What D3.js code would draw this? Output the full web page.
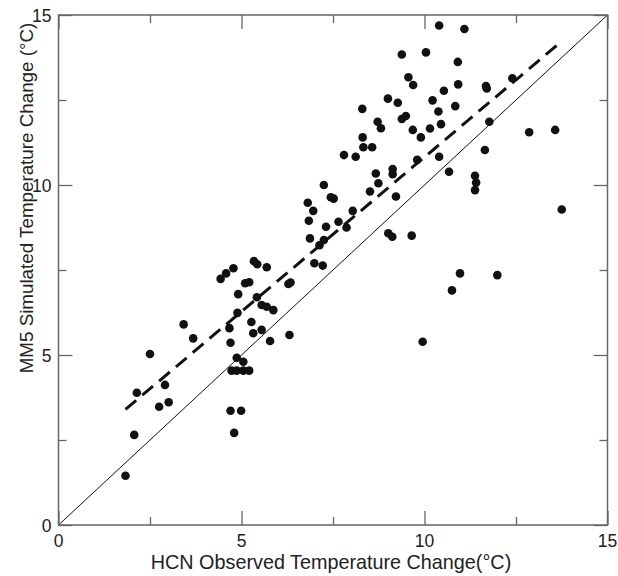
<!DOCTYPE html>
<html>
<head>
<meta charset="utf-8">
<script src="https://cdn.jsdelivr.net/npm/d3@7"></script>
<style>
  body { margin: 0; background: #fff; }
  svg text { font-family: Arial, "Liberation Sans", Helvetica, sans-serif; fill: #222; }
</style>
</head>
<body>
<div id="container"></div>
<script>
// HCN observed change (x) vs MM5 simulated change (y), degrees C
const observed = [
  1.83, 2.07, 2.14, 2.50, 2.75, 2.91, 3.01, 3.42, 3.68, 4.43,
  4.58, 4.78, 4.67, 4.70, 4.70, 4.99, 4.80, 4.73, 4.87, 5.05,
  5.21, 4.87, 5.05, 4.89, 4.91, 5.27, 5.32, 5.55, 5.78, 6.31,
  5.42, 5.55, 5.69, 5.87, 5.10, 5.21, 5.34, 5.43, 5.69, 6.28,
  6.34, 6.81, 6.96, 6.84, 6.87, 6.99, 7.22, 7.13, 7.25, 7.31,
  7.25, 7.44, 7.52, 7.65, 7.87, 7.80, 8.12, 8.04, 8.51, 8.67,
  8.74, 8.31, 8.33, 8.57, 8.30, 8.72, 8.81, 9.00, 9.27, 9.38,
  9.56, 9.69, 9.38, 9.49, 9.13, 9.13, 9.22, 9.01, 9.12, 9.65,
  9.68, 9.80, 9.90, 10.04, 10.15, 10.22, 10.38, 10.40, 10.40, 10.45,
  10.53, 10.67, 10.84, 10.91, 10.92, 11.09, 11.38, 11.41, 11.38, 11.65,
  11.68, 11.70, 11.77, 12.40, 12.86, 13.57, 13.75, 10.97, 11.99, 10.75,
  9.95
];
const simulated = [
  1.45, 2.65, 3.89, 5.03, 3.48, 4.12, 3.61, 5.90, 5.49, 7.24,
  7.40, 7.55, 5.79, 5.36, 3.36, 3.36, 2.71, 4.54, 4.54, 4.54,
  4.54, 4.92, 4.80, 6.24, 6.79, 5.97, 5.64, 5.74, 5.41, 5.59,
  6.70, 6.47, 6.42, 6.32, 7.11, 7.14, 7.76, 7.67, 7.58, 7.09,
  7.13, 9.48, 9.24, 8.95, 8.43, 7.70, 7.63, 8.23, 8.38, 8.77,
  10.00, 9.64, 9.60, 8.92, 8.75, 10.88, 10.83, 9.24, 9.81, 10.34,
  10.05, 11.40, 11.11, 11.11, 12.24, 11.86, 11.67, 12.54, 12.42, 13.84,
  13.17, 12.94, 11.94, 12.03, 10.47, 10.32, 9.66, 8.58, 8.48, 8.51,
  11.62, 10.74, 11.40, 13.90, 11.66, 12.49, 12.16, 10.83, 14.69, 11.79,
  12.77, 10.39, 12.32, 13.62, 12.96, 14.59, 10.27, 10.07, 9.85, 11.03,
  12.91, 12.84, 11.86, 13.14, 11.55, 11.62, 9.28, 7.40, 7.35, 6.90,
  5.39
];
// regression fit and the 1:1 line
const fitX = [1.83, 13.72];
const fitY = [3.40, 14.20];
const oneToOne = [0, 15];
const majorTicks = [0, 5, 10, 15];
const minorTicks = [2.5, 7.5, 12.5];

const totalWidth = 618;
const totalHeight = 576;
const margin = { top: 15, right: 10.5, bottom: 51, left: 58.5 };
const width = totalWidth - margin.left - margin.right;
const height = totalHeight - margin.top - margin.bottom;

const x = d3.scaleLinear().domain([0, 15]).range([0, width]);
const y = d3.scaleLinear().domain([0, 15]).range([height, 0]);

const svg = d3.select("#container")
  .append("svg")
  .attr("width", totalWidth)
  .attr("height", totalHeight);

const g = svg.append("g")
  .attr("transform", `translate(${margin.left},${margin.top})`);

// 1:1 line
g.append("line")
  .attr("x1", x(oneToOne[0])).attr("y1", y(oneToOne[0]))
  .attr("x2", x(oneToOne[1])).attr("y2", y(oneToOne[1]))
  .attr("stroke", "#111")
  .attr("stroke-width", 1);

// points
g.selectAll("circle")
  .data(observed.map((v, i) => [v, simulated[i]]))
  .enter()
  .append("circle")
  .attr("cx", d => x(d[0]))
  .attr("cy", d => y(d[1]))
  .attr("r", 4.3)
  .attr("fill", "#111");

// dashed fit line
g.append("line")
  .attr("x1", x(fitX[0])).attr("y1", y(fitY[0]))
  .attr("x2", x(fitX[1])).attr("y2", y(fitY[1]))
  .attr("stroke", "#111")
  .attr("stroke-width", 3)
  .attr("stroke-dasharray", "14,8");

// axes with inward ticks on all four sides
const axisColor = "#666";
function styleAxis(sel) {
  sel.select(".domain").remove();
  sel.selectAll("line").attr("stroke", axisColor).attr("stroke-width", 1.3);
}

g.append("g")
  .attr("transform", `translate(0,${height})`)
  .call(d3.axisTop(x).tickValues(majorTicks).tickSize(14).tickFormat(""))
  .call(styleAxis);
g.append("g")
  .attr("transform", `translate(0,${height})`)
  .call(d3.axisTop(x).tickValues(minorTicks).tickSize(8).tickFormat(""))
  .call(styleAxis);
g.append("g")
  .call(d3.axisBottom(x).tickValues(majorTicks).tickSize(14).tickFormat(""))
  .call(styleAxis);
g.append("g")
  .call(d3.axisBottom(x).tickValues(minorTicks).tickSize(8).tickFormat(""))
  .call(styleAxis);
g.append("g")
  .call(d3.axisRight(y).tickValues(majorTicks).tickSize(14).tickFormat(""))
  .call(styleAxis);
g.append("g")
  .call(d3.axisRight(y).tickValues(minorTicks).tickSize(8).tickFormat(""))
  .call(styleAxis);
g.append("g")
  .attr("transform", `translate(${width},0)`)
  .call(d3.axisLeft(y).tickValues(majorTicks).tickSize(14).tickFormat(""))
  .call(styleAxis);
g.append("g")
  .attr("transform", `translate(${width},0)`)
  .call(d3.axisLeft(y).tickValues(minorTicks).tickSize(8).tickFormat(""))
  .call(styleAxis);

// frame
g.append("rect")
  .attr("width", width)
  .attr("height", height)
  .attr("fill", "none")
  .attr("stroke", axisColor)
  .attr("stroke-width", 1.5);

// tick labels
g.selectAll(".xlab")
  .data(majorTicks)
  .enter()
  .append("text")
  .attr("x", d => x(d))
  .attr("y", height + 22)
  .attr("text-anchor", "middle")
  .attr("font-size", 17.5)
  .text(d => d);

g.selectAll(".ylab")
  .data(majorTicks)
  .enter()
  .append("text")
  .attr("x", -7)
  .attr("y", d => y(d) + 7)
  .attr("text-anchor", "end")
  .attr("font-size", 17.5)
  .text(d => d);

// axis titles
svg.append("text")
  .attr("x", 331)
  .attr("y", 569)
  .attr("text-anchor", "middle")
  .attr("font-size", 19.8)
  .text("HCN Observed Temperature Change(°C)");

svg.append("text")
  .attr("transform", "rotate(-90)")
  .attr("x", -198)
  .attr("y", 33)
  .attr("text-anchor", "middle")
  .attr("font-size", 18.8)
  .text("MM5 Simulated Temperature Change (°C)");
</script>
</body>
</html>
